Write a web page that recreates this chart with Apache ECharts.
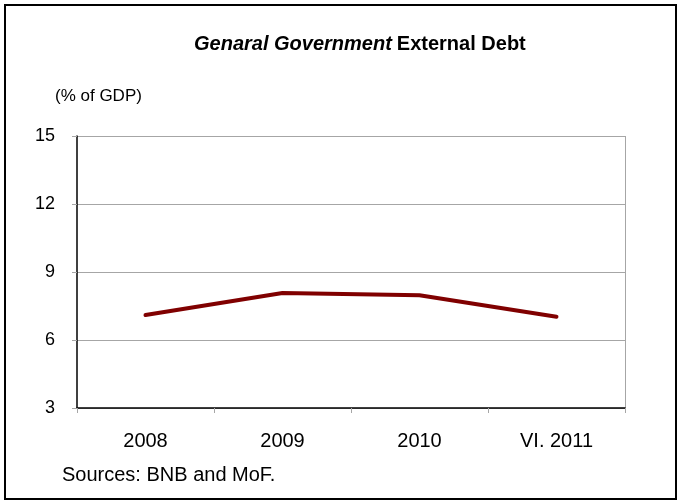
<!DOCTYPE html>
<html><head><meta charset="utf-8">
<script src="https://cdn.jsdelivr.net/npm/echarts@6/dist/echarts.min.js"></script>
<style>html,body{margin:0;padding:0;background:#fff}#c{width:681px;height:504px}</style>
</head><body><div id="c"></div>
<script>
const categories = ['2008', '2009', '2010', 'VI. 2011'];
const debtValues = [7.1, 8.07, 7.97, 7.03];
const yTicks = [3, 6, 9, 12, 15];

const chart = echarts.init(document.getElementById('c'), null, {renderer: 'canvas'});
const FONT = 'Liberation Sans, Arial, sans-serif';
chart.setOption({
  backgroundColor: '#fff',
  animation: false,
  title: {
    text: '{i|Genaral Government} {b|External Debt}',
    left: 194, top: 34, padding: 0,
    textStyle: {
      rich: {
        i: {fontFamily: FONT, fontSize: 20, fontWeight: 'bold', fontStyle: 'italic', color: '#000'},
        b: {fontFamily: FONT, fontSize: 20, fontWeight: 'bold', color: '#000'}
      }
    }
  },
  graphic: [
    {type: 'rect', shape: {x: 5, y: 5, width: 671, height: 494}, style: {fill: 'none', stroke: '#000', lineWidth: 2}, silent: true},
    {type: 'text', left: 55, top: 88, style: {text: '(% of GDP)', font: '17px ' + FONT, fill: '#000'}},
    {type: 'text', left: 62, top: 465, style: {text: 'Sources: BNB and MoF.', font: '20px ' + FONT, fill: '#000'}},
    {type: 'line', shape: {x1: 625.5, y1: 136, x2: 625.5, y2: 408}, style: {stroke: '#a6a6a6', lineWidth: 1}, silent: true}
  ],
  grid: {left: 77, right: 56, top: 136, bottom: 96, containLabel: false},
  xAxis: {
    type: 'category',
    data: categories,
    boundaryGap: true,
    axisLine: {show: true, lineStyle: {color: '#000', width: 1.5}},
    axisTick: {show: true, length: 5, inside: false, lineStyle: {color: '#a6a6a6'}},
    axisLabel: {fontFamily: FONT, fontSize: 20, color: '#000', margin: 23},
    splitLine: {show: false}
  },
  yAxis: {
    type: 'value',
    min: yTicks[0], max: yTicks[yTicks.length - 1], interval: 3,
    axisLine: {show: true, lineStyle: {color: '#000', width: 1.5}},
    axisTick: {show: true, length: 5, lineStyle: {color: '#a6a6a6'}},
    axisLabel: {fontFamily: FONT, fontSize: 18, color: '#000', margin: 22},
    splitLine: {show: true, lineStyle: {color: '#a6a6a6', width: 1}}
  },
  series: [{
    type: 'line',
    data: debtValues,
    symbol: 'none',
    lineStyle: {color: '#800000', width: 4, cap: 'round', join: 'round'},
    itemStyle: {color: '#800000'}
  }]
});
</script></body></html>
